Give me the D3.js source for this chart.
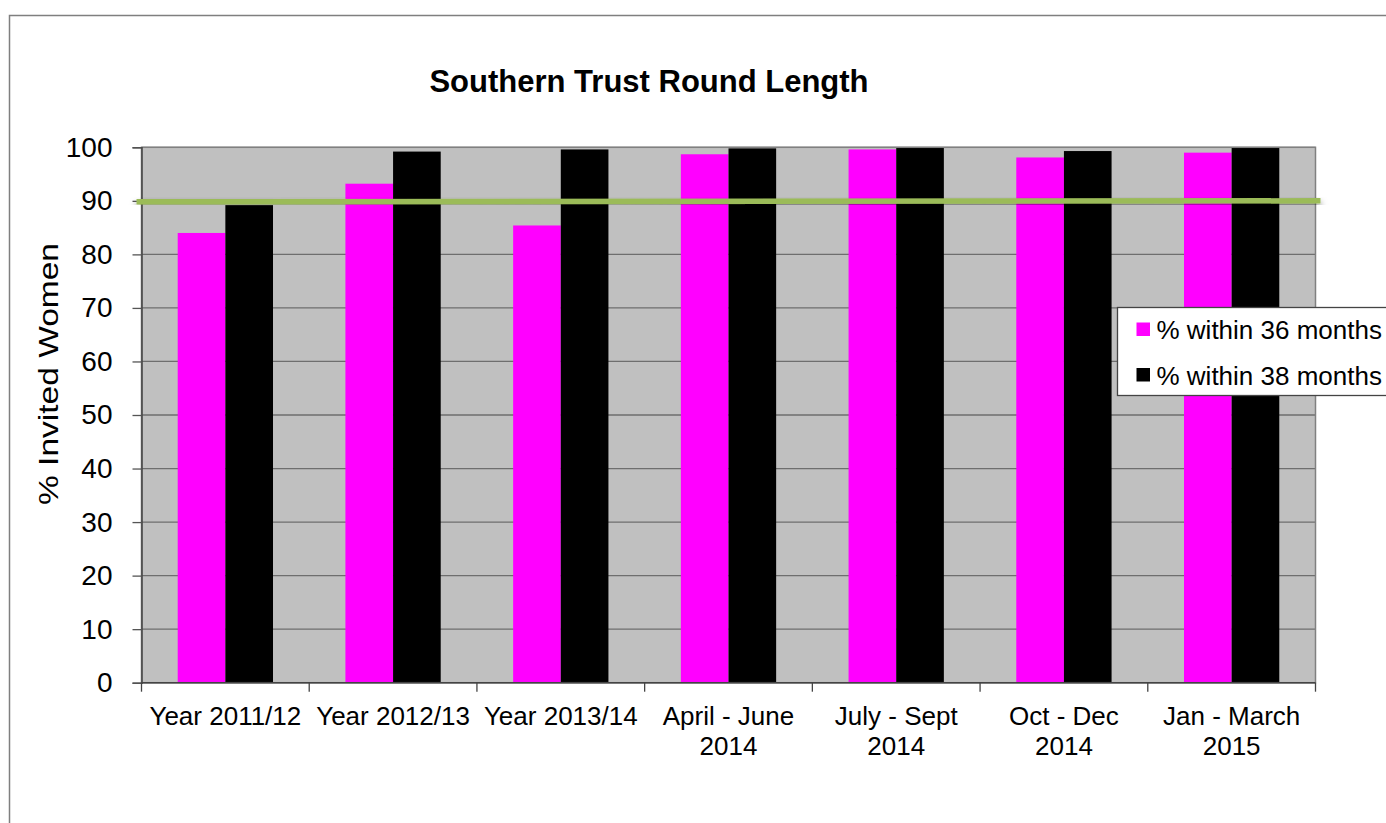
<!DOCTYPE html>
<html>
<head>
<meta charset="utf-8">
<script src="https://cdn.jsdelivr.net/npm/d3@7"></script>
<style>
	body { margin: 0; background: #fff; }
	text { font-family: "Liberation Sans", Arial, sans-serif; fill: #000; }
</style>
</head>
<body>
<div id="chart"></div>
<script>
	'use strict';

	// DATA
	const categories = ["Year 2011/12", "Year 2012/13", "Year 2013/14", "April - June\n2014", "July - Sept\n2014", "Oct - Dec\n2014", "Jan - March\n2015"];
	const seriesNames = ["% within 36 months", "% within 38 months"];
	const within36 = [84.0, 93.2, 85.4, 98.7, 99.6, 98.1, 99.0];
	const within38 = [89.2, 99.2, 99.6, 99.8, 99.9, 99.3, 99.9];
	const target = 90;
	const yTicks = [0, 10, 20, 30, 40, 50, 60, 70, 80, 90, 100];
	const seriesColors = ["#ff00ff", "#000000"];

	const width = 1386;
	const height = 823;
	const margin = { top: 147.3, right: 70.5, bottom: 140.3, left: 141.5 };
	const innerWidth = width - margin.left - margin.right;
	const innerHeight = height - margin.top - margin.bottom;

	const svg = d3.select("#chart").append("svg")
		.attr("width", width)
		.attr("height", height);

	const defs = svg.append("defs");
	const shadow = defs.append("filter").attr("id", "shadow")
		.attr("x", "-5%").attr("y", "-300%").attr("width", "110%").attr("height", "700%");
	shadow.append("feDropShadow")
		.attr("dx", 0).attr("dy", 4).attr("stdDeviation", 3)
		.attr("flood-color", "#000").attr("flood-opacity", 0.5);

	// chart area border: only the left and top edges are inside the picture
	svg.append("path")
		.attr("d", `M9.5,${height}V15.5H${width}`)
		.attr("fill", "none").attr("stroke", "#7f7f7f").attr("stroke-width", 1.5);

	svg.append("text")
		.attr("x", 649).attr("y", 92)
		.attr("text-anchor", "middle")
		.style("font-size", "31px").style("font-weight", "bold")
		.text("Southern Trust Round Length");

	const g = svg.append("g").attr("transform", `translate(${margin.left},${margin.top})`);

	// scales
	const x0 = d3.scaleBand().domain(categories).range([0, innerWidth]);
	const x1 = d3.scaleBand().domain(seriesNames).range([0, x0.bandwidth()]).paddingOuter(0.76);
	const y = d3.scaleLinear().domain([0, 100]).range([innerHeight, 0]);

	// plot background + grid
	g.append("rect")
		.attr("width", innerWidth).attr("height", innerHeight)
		.attr("fill", "#c0c0c0");

	g.append("g").selectAll("line").data(yTicks).enter().append("line")
		.attr("x1", 0).attr("x2", innerWidth)
		.attr("y1", d => y(d)).attr("y2", d => y(d))
		.attr("stroke", "#6e6e6e").attr("stroke-width", 1.3);

	// bars
	const rows = categories.map((c, i) => ({ cat: c, values: [within36[i], within38[i]] }));
	const groups = g.selectAll(".grp").data(rows).enter().append("g")
		.attr("class", "grp")
		.attr("transform", d => `translate(${x0(d.cat)},0)`);
	groups.selectAll("rect")
		.data(d => d.values.map((v, j) => ({ name: seriesNames[j], value: v, color: seriesColors[j] })))
		.enter().append("rect")
		.attr("x", d => x1(d.name))
		.attr("width", x1.bandwidth())
		.attr("y", d => y(d.value))
		.attr("height", d => innerHeight - y(d.value))
		.attr("fill", d => d.color);

	// plot border
	g.append("rect")
		.attr("width", innerWidth).attr("height", innerHeight)
		.attr("fill", "none").attr("stroke", "#808080").attr("stroke-width", 1.5);

	// Y axis
	const yAxis = d3.axisLeft(y).tickValues(yTicks).tickSize(9).tickPadding(20);
	const yAxisG = g.append("g").call(yAxis);
	yAxisG.select(".domain").attr("stroke", "#444").attr("stroke-width", 1.5);
	yAxisG.selectAll(".tick line").attr("stroke", "#555").attr("stroke-width", 1.3);
	yAxisG.selectAll(".tick text")
		.style("font-size", "28px").style("font-family", "'Liberation Sans', Arial, sans-serif")
		.attr("fill", "#000");

	// X axis: ticks at category boundaries
	const bounds = categories.map(c => x0(c)).concat([innerWidth]);
	const xAxisG = g.append("g").attr("transform", `translate(0,${innerHeight})`);
	xAxisG.append("line")
		.attr("x1", 0).attr("x2", innerWidth)
		.attr("stroke", "#444").attr("stroke-width", 1.5);
	xAxisG.selectAll(".bt").data(bounds).enter().append("line")
		.attr("x1", d => d).attr("x2", d => d)
		.attr("y1", 0).attr("y2", 9)
		.attr("stroke", "#444").attr("stroke-width", 1.3);
	const xl = xAxisG.selectAll(".xl").data(categories).enter().append("text")
		.attr("text-anchor", "middle")
		.attr("transform", d => `translate(${x0(d) + x0.bandwidth() / 2},42)`)
		.style("font-size", "26px");
	xl.selectAll("tspan").data(d => d.split("\n")).enter().append("tspan")
		.attr("x", 0)
		.attr("dy", (d, i) => i === 0 ? 0 : 30)
		.text(d => d);

	// target line
	g.append("line")
		.attr("x1", -5).attr("x2", innerWidth + 5)
		.attr("y1", y(target) + 1).attr("y2", y(target))
		.attr("stroke", "#9bbb59").attr("stroke-width", 5.5)
		.attr("filter", "url(#shadow)");

	// Y axis title
	svg.append("text")
		.attr("transform", "translate(58,374) rotate(-90)")
		.attr("text-anchor", "middle")
		.attr("textLength", 262).attr("lengthAdjust", "spacingAndGlyphs")
		.style("font-size", "28px")
		.text("% Invited Women");

	// legend (runs past the right edge, as in the reference)
	const legend = svg.append("g").attr("transform", "translate(1117.5,307.5)");
	legend.append("rect")
		.attr("width", 300).attr("height", 88)
		.attr("fill", "#fff").attr("stroke", "#444").attr("stroke-width", 1.3);
	const li = legend.selectAll(".li").data(seriesNames).enter().append("g")
		.attr("transform", (d, i) => `translate(19,${22 + i * 45.5})`);
	li.append("rect")
		.attr("width", 13.5).attr("height", 13.5).attr("y", -7)
		.attr("fill", (d, i) => seriesColors[i]);
	li.append("text")
		.attr("x", 20).attr("y", 9.5)
		.style("font-size", "26px")
		.text(d => d);
</script>
</body>
</html>
